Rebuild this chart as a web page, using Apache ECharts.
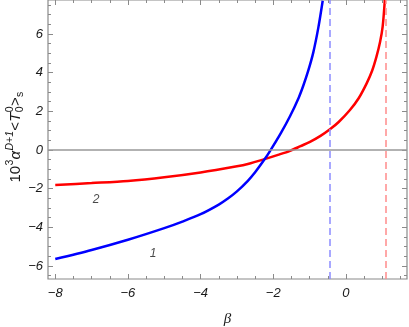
<!DOCTYPE html>
<html><head><meta charset="utf-8">
<script src="https://cdn.jsdelivr.net/npm/echarts@6/dist/echarts.min.js"></script>
<style>html,body{margin:0;padding:0;background:#fff}#c{width:409px;height:327px}</style>
</head><body><div id="c"></div><script>
// curve 1 (blue)
const beta1 = [-8, -7, -6, -5, -4.5, -4, -3.5, -3.25, -3, -2.7, -2.5, -2.24, -2.1, -1.8, -1.54, -1.3, -1.17, -1.04, -0.9, -0.76, -0.64];
const val1  = [-5.64, -5.17, -4.64, -4.04, -3.70, -3.32, -2.82, -2.51, -2.14, -1.59, -1.15, -0.48, -0.08, 0.85, 1.75, 2.71, 3.35, 4.09, 5.04, 6.33, 7.72];
// curve 2 (red)
const beta2 = [-8, -7, -6, -5, -4, -3, -2.7, -2.24, -1.87, -1.54, -1.25, -0.99, -0.7, -0.44, -0.2, 0.11, 0.35, 0.57, 0.72, 0.84, 0.94, 1.01, 1.07];
const val2  = [-1.81, -1.71, -1.60, -1.41, -1.16, -0.84, -0.72, -0.47, -0.25, -0.04, 0.2, 0.42, 0.73, 1.07, 1.45, 2.07, 2.68, 3.45, 4.1, 4.83, 5.6, 6.38, 7.76];
// asymptotes (dashed verticals)
const asym1 = -0.44, asym2 = 1.10;
// tick labels
const xTickLabels = [-8, -6, -4, -2, 0];
const yTickLabels = [-6, -4, -2, 0, 2, 4, 6];
// curve number labels
const curveLabelText = ['1', '2'];
const curveLabelBeta = [-5.31, -6.88];
const curveLabelVal  = [-5.35, -2.55];
const xRange = [-8.2, 1.68], yRange = [-6.67, 7.76];

const xMinor = [], yMinor = [];
for (let v = -8; v <= xRange[1]; v += 0.5) if (!xTickLabels.includes(v)) xMinor.push(v);
for (let v = -6.5; v <= yRange[1]; v += 0.5) if (!yTickLabels.includes(v)) yMinor.push(v);

const frameC = '#8a8a8a';
const labelStyle = {color:'#1a1a1a', fontSize:13, fontStyle:'italic', fontFamily:'Liberation Sans'};

function axis(kind, pos, ticks, len, showLab) {
  const r = kind === 'x' ? xRange : yRange;
  return {
    type:'value', position:pos, min:r[0], max:r[1],
    axisLine:{show:false, onZero:false},
    splitLine:{show:false},
    axisTick:{show:true, inside:true, length:len, customValues:ticks, lineStyle:{color:frameC, width:1}},
    axisLabel: showLab ? Object.assign({show:true, customValues:ticks, margin: kind==='x'?8:5,
        formatter: v => (v<0?'\u2212'+Math.abs(v):String(v))}, labelStyle) : {show:false}
  };
}

const xAxes = [
  Object.assign(axis('x','bottom',xTickLabels,5,true), {name:'β', nameLocation:'middle', nameGap:33,
    nameTextStyle:{fontSize:15, fontStyle:'italic', fontFamily:'Liberation Serif', color:'#1a1a1a'}}),
  axis('x','bottom',xMinor,3,false),
  axis('x','top',xTickLabels,5,false),
  axis('x','top',xMinor,3,false)
];
const yAxes = [
  axis('y','left',yTickLabels,5,true),
  axis('y','left',yMinor,3,false),
  axis('y','right',yTickLabels,5,false),
  axis('y','right',yMinor,3,false)
];

// y-axis title built from pieces (rotated)
const ctx = document.createElement('canvas').getContext('2d');
const pieces = [
  {t:'10', s:15, dy:0},
  {t:'3', s:10.5, dy:-6},
  {t:'α', s:15, dy:0, it:true},
  {t:'D+1', s:10.5, dy:-6, it:true},
  {t:'<', s:15, dy:0},
  {t:'T', s:15, dy:0, it:true},
  {t:'0', s:10.5, dy:-6, stackNext:true},
  {t:'0', s:10.5, dy:4},
  {t:'>', s:15, dy:0},
  {t:'s', s:10.5, dy:4}
];
const fam = '"Liberation Sans"';
let cx = 0; const children = [];
pieces.forEach((p, i) => {
  const font = (p.it?'italic ':'') + p.s + 'px ' + fam;
  ctx.font = font;
  const w = ctx.measureText(p.t).width;
  children.push({type:'text', x:cx, y:p.dy, style:{text:p.t, font:font, fill:'#1a1a1a', verticalAlign:'middle', align:'left'}});
  if (!p.stackNext) cx += w + 0.3;
});
children.forEach(c => c.x -= cx/2);

const chart = echarts.init(document.getElementById('c'), null, {renderer:'canvas'});
chart.setOption({
  animation:false,
  grid:{left:48, right:2, top:0, bottom:48, show:true, borderColor:frameC, borderWidth:1.2,
        backgroundColor:'transparent', containLabel:false, outerBoundsMode:'none'},
  xAxis:xAxes, yAxis:yAxes,
  graphic:[{type:'group', x:16, y:137, rotation:Math.PI/2, children:children}],
  series:[
    {type:'line', data:[], z:1, silent:true,
     markLine:{silent:true, symbol:['none','none'], label:{show:false},
       data:[
         {yAxis:0, lineStyle:{color:'#999', width:1.5, type:'solid'}},
         {xAxis:asym1, lineStyle:{color:'#8c8cff', width:1.5, type:[7,4]}},
         {xAxis:asym2, lineStyle:{color:'#ff8c8c', width:1.5, type:[7,4]}}
       ]}},
    {type:'line', z:3, data:beta2.map((b,i)=>[b,val2[i]]), symbol:'none', smooth:0.3,
     lineStyle:{color:'#ff0000', width:2.5}, clip:true},
    {type:'line', z:4, data:beta1.map((b,i)=>[b,val1[i]]), symbol:'none', smooth:0.3,
     lineStyle:{color:'#0000ff', width:2.5}, clip:true},
    {type:'scatter', z:5, symbolSize:0, silent:true,
     data:curveLabelText.map((t,i)=>({value:[curveLabelBeta[i], curveLabelVal[i]], name:t})),
     label:{show:true, position:'inside', formatter:p=>p.name, color:'#1a1a1a', fontSize:12, fontStyle:'italic', fontFamily:'Liberation Sans'}}
  ]
});
</script></body></html>
